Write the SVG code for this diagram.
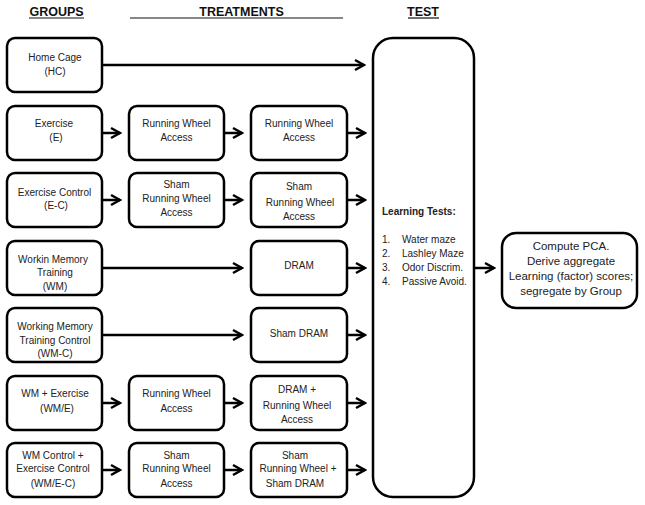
<svg xmlns="http://www.w3.org/2000/svg" width="645" height="505" viewBox="0 0 645 505">
<style>
.bx{fill:#fff;stroke:#000;stroke-width:2.5}
.t{font-family:"Liberation Sans",Arial,sans-serif;font-size:10px;fill:#222;text-anchor:middle}
.h{font-family:"Liberation Sans",Arial,sans-serif;font-size:12.5px;font-weight:bold;fill:#111;text-anchor:middle}
.ul{stroke:#111;stroke-width:1.2}
.c{stroke:#000;stroke-width:2.5;fill:none;marker-end:url(#ah)}
.lt{font-family:"Liberation Sans",Arial,sans-serif;font-size:10px;fill:#222}
.pc{font-family:"Liberation Sans",Arial,sans-serif;font-size:11.5px;fill:#222;text-anchor:middle}
</style>
<defs>
<marker id="ah" markerUnits="userSpaceOnUse" viewBox="-12 -7 14 14" markerWidth="14" markerHeight="14" refX="0" refY="0" orient="auto">
<path d="M-9,-5 L0,0 L-9,5" fill="none" stroke="#000" stroke-width="2.5" stroke-linejoin="miter"/>
</marker>
</defs>
<rect width="645" height="505" fill="#fff"/>
<g id="headers">
<text class="h" x="56.5" y="16">GROUPS</text>
<line class="ul" x1="29" y1="18" x2="84" y2="18"/>
<text class="h" x="241.5" y="16">TREATMENTS</text>
<line class="ul" x1="130" y1="18" x2="343" y2="18"/>
<text class="h" x="423" y="16">TEST</text>
<line class="ul" x1="408" y1="18" x2="439" y2="18"/>
</g>
<g id="connectors">
<path class="c" d="M102,65 H364"/>
<path class="c" d="M102,133 H120"/>
<path class="c" d="M224,133 H242"/>
<path class="c" d="M347,133 H365"/>
<path class="c" d="M102,200 H120"/>
<path class="c" d="M224,200 H242"/>
<path class="c" d="M347,200 H365"/>
<path class="c" d="M102,268 H242"/>
<path class="c" d="M347,268 H365"/>
<path class="c" d="M102,335 H242"/>
<path class="c" d="M347,335 H365"/>
<path class="c" d="M102,403 H120"/>
<path class="c" d="M224,403 H242"/>
<path class="c" d="M347,403 H365"/>
<path class="c" d="M102,470 H120"/>
<path class="c" d="M224,470 H242"/>
<path class="c" d="M347,470 H365"/>
<path class="c" d="M475,268 H494"/>
</g>
<g id="hc"><rect class="bx" x="7" y="38" width="95" height="54" rx="8"/><text class="t" x="55" y="61">Home Cage</text><text class="t" x="55" y="75">(HC)</text></g>
<g id="e"><rect class="bx" x="7" y="106" width="95" height="54" rx="8"/><text class="t" x="54" y="127">Exercise</text><text class="t" x="56" y="141">(E)</text></g>
<g id="e-rw1"><rect class="bx" x="129" y="106" width="95" height="54" rx="8"/><text class="t" x="176.5" y="127">Running Wheel</text><text class="t" x="176.5" y="141">Access</text></g>
<g id="e-rw2"><rect class="bx" x="251" y="106" width="96" height="54" rx="8"/><text class="t" x="299" y="127">Running Wheel</text><text class="t" x="299" y="141">Access</text></g>
<g id="ec"><rect class="bx" x="7" y="173" width="95" height="54" rx="8"/><text class="t" x="54.5" y="196">Exercise  Control</text><text class="t" x="56" y="209">(E-C)</text></g>
<g id="ec-s1"><rect class="bx" x="129" y="173" width="95" height="54" rx="8"/><text class="t" x="176.5" y="188">Sham</text><text class="t" x="176.5" y="202">Running Wheel</text><text class="t" x="176.5" y="216">Access</text></g>
<g id="ec-s2"><rect class="bx" x="251" y="173" width="96" height="54" rx="8"/><text class="t" x="299" y="190">Sham</text><text class="t" x="300" y="206">Running Wheel</text><text class="t" x="299" y="220">Access</text></g>
<g id="wm"><rect class="bx" x="7" y="241" width="95" height="54" rx="8"/><text class="t" x="53" y="263">Workin Memory</text><text class="t" x="55" y="276">Training</text><text class="t" x="55" y="290">(WM)</text></g>
<g id="wm-dram"><rect class="bx" x="251" y="241" width="96" height="54" rx="8"/><text class="t" x="299" y="269">DRAM</text></g>
<g id="wmc"><rect class="bx" x="7" y="308" width="95" height="54" rx="8"/><text class="t" x="55" y="330">Working Memory</text><text class="t" x="55" y="344">Training Control</text><text class="t" x="55" y="357">(WM-C)</text></g>
<g id="wmc-sdram"><rect class="bx" x="251" y="308" width="96" height="54" rx="8"/><text class="t" x="299" y="337">Sham DRAM</text></g>
<g id="wme"><rect class="bx" x="7" y="376" width="95" height="54" rx="8"/><text class="t" x="55" y="397">WM + Exercise</text><text class="t" x="57" y="412">(WM/E)</text></g>
<g id="wme-rw"><rect class="bx" x="129" y="376" width="95" height="54" rx="8"/><text class="t" x="176.5" y="397">Running Wheel</text><text class="t" x="176.5" y="412">Access</text></g>
<g id="wme-dram"><rect class="bx" x="251" y="376" width="96" height="54" rx="8"/><text class="t" x="297" y="393">DRAM +</text><text class="t" x="297" y="409">Running Wheel</text><text class="t" x="297" y="423">Access</text></g>
<g id="wmec"><rect class="bx" x="7" y="443" width="95" height="54" rx="8"/><text class="t" x="53" y="459">WM Control +</text><text class="t" x="53" y="472">Exercise Control</text><text class="t" x="53" y="487">(WM/E-C)</text></g>
<g id="wmec-s1"><rect class="bx" x="129" y="443" width="95" height="54" rx="8"/><text class="t" x="176.5" y="459">Sham</text><text class="t" x="176.5" y="472">Running Wheel</text><text class="t" x="176.5" y="487">Access</text></g>
<g id="wmec-s2"><rect class="bx" x="251" y="443" width="96" height="54" rx="8"/><text class="t" x="295" y="459">Sham</text><text class="t" x="298" y="472">Running Wheel +</text><text class="t" x="295" y="487">Sham DRAM</text></g>
<g id="test"><rect class="bx" x="373" y="38" width="101" height="459" rx="20"/>
<text class="lt" x="382" y="215" font-weight="bold" font-size="10.5">Learning Tests:</text>
<text class="lt" x="382" y="243">1.</text><text class="lt" x="402" y="243">Water maze</text>
<text class="lt" x="382" y="257">2.</text><text class="lt" x="402" y="257">Lashley Maze</text>
<text class="lt" x="382" y="271">3.</text><text class="lt" x="402" y="271">Odor Discrim.</text>
<text class="lt" x="382" y="284.5">4.</text><text class="lt" x="402" y="284.5">Passive Avoid.</text>
</g>
<g id="pca"><rect class="bx" x="502" y="233" width="135" height="75" rx="14"/>
<text class="pc" x="571" y="250">Compute PCA.</text>
<text class="pc" x="571" y="265">Derive aggregate</text>
<text class="pc" x="571" y="280">Learning (factor) scores;</text>
<text class="pc" x="571" y="295">segregate by Group</text>
</g>
</svg>
